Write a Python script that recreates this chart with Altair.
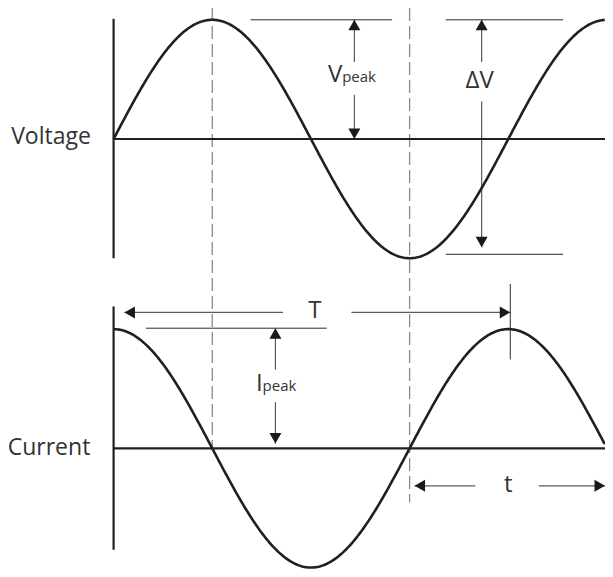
import altair as alt
import numpy as np
import pandas as pd

# ---- diagram parameters ----
# x in electrical degrees (one period = 360), y in units of peak amplitude
X_DOMAIN = [-96.3, 448.2]
Y_DOMAIN = [-3.607, 1.099]
V_BASE = 0.0          # voltage zero line
I_BASE = -2.595       # current zero line
AMP = 1.0
X_END = 448.2

phase = np.arange(0, 450, 1.0)
phase = phase[phase <= X_END]
voltage = V_BASE + AMP * np.sin(np.radians(phase))
current = I_BASE + AMP * np.cos(np.radians(phase))

waves = pd.DataFrame({
    "x": np.concatenate([phase, phase]),
    "y": np.concatenate([voltage, current]),
    "s": ["V"] * len(phase) + ["I"] * len(phase),
})

# thick axis lines
ax_x = [0, 0, 0, 0]
ax_x2 = [0, 0, X_END, X_END]
ax_y = [1.008, -1.405, V_BASE, I_BASE]
ax_y2 = [-1.0, -3.446, V_BASE, I_BASE]
axes_df = pd.DataFrame({"x": ax_x, "x2": ax_x2, "y": ax_y, "y2": ax_y2})

# dashed guides
dash_x = [90, 270]
dash_top = [1.1, 1.1]
dash_bot = [I_BASE, -3.05]
dash_df = pd.DataFrame({"x": dash_x, "y": dash_top, "y2": dash_bot})

# thin reference lines (peak levels, period tick)
ref_x = [125, 303, 303, 29.4, 361.8]
ref_x2 = [254, 410, 410, 194.4, 361.8]
ref_y = [1.0, 1.0, -0.967, -1.587, -1.215]
ref_y2 = [1.0, 1.0, -0.967, -1.587, -1.849]
ref_df = pd.DataFrame({"x": ref_x, "x2": ref_x2, "y": ref_y, "y2": ref_y2})

# arrow shafts
sh_x = [219.6, 219.6, 335.7, 335.7, 147.6, 147.6, 9.9, 216.9, 274.5, 387.9]
sh_x2 = [219.6, 219.6, 335.7, 335.7, 147.6, 147.6, 154.5, 361.8, 330.0, 448.2]
sh_y = [1.0, 0.372, 1.0, 0.314, -1.587, -2.207, -1.455, -1.455, -2.909, -2.909]
sh_y2 = [0.645, 0.0, 0.645, -0.909, -1.934, -2.554, -1.455, -1.455, -2.909, -2.909]
sh_df = pd.DataFrame({"x": sh_x, "x2": sh_x2, "y": sh_y, "y2": sh_y2})

# arrowheads (tip position, direction angle: 0=up, 90=right, 180=down, 270=left)
head_x = [219.6, 219.6, 335.7, 335.7, 147.6, 147.6, 9.9, 361.8, 274.5, 448.2]
head_y = [1.0, 0.0, 1.0, -0.909, -1.587, -2.554, -1.455, -1.455, -2.909, -2.909]
head_a = [0, 180, 0, 180, 0, 180, 270, 90, 270, 90]
head_df = pd.DataFrame({"x": head_x, "y": head_y, "a": head_a})
ARROW = "M0,0L0.6,1.05L-0.6,1.05Z"

# text labels (alphabetic baseline positions)
main_txt = ["Voltage", "Current"]
main_x = [-20.7, -21.2]
main_y = [-0.044, -2.647]
main_df = pd.DataFrame({"t": main_txt, "x": main_x, "y": main_y})

sym_r_txt = ["V", "I"]
sym_r_x = [208.5, 135.9]
sym_r_y = [0.479, -2.110]
sym_r_df = pd.DataFrame({"t": sym_r_txt, "x": sym_r_x, "y": sym_r_y})

sym_c_txt = ["ΔV", "T", "t"]
sym_c_x = [333.9, 183.6, 360.0]
sym_c_y = [0.424, -1.504, -2.959]
sym_c_df = pd.DataFrame({"t": sym_c_txt, "x": sym_c_x, "y": sym_c_y})

sub_txt = ["peak", "peak"]
sub_x = [208.5, 135.9]
sub_y = [0.479, -2.110]
sub_df = pd.DataFrame({"t": sub_txt, "x": sub_x, "y": sub_y})

xs = alt.Scale(domain=X_DOMAIN, nice=False, zero=False)
ys = alt.Scale(domain=Y_DOMAIN, nice=False, zero=False)
X = lambda f="x": alt.X(f"{f}:Q", scale=xs, axis=None)
Y = lambda f="y": alt.Y(f"{f}:Q", scale=ys, axis=None)

INK = "#231f20"
TXT = "#333333"
FONT = "Open Sans"

dash_layer = alt.Chart(dash_df).mark_rule(
    color="#8a8a8a", strokeWidth=1.3, strokeDash=[13, 5]
).encode(x=X(), y=Y(), y2="y2:Q")

ref_layer = alt.Chart(ref_df).mark_rule(color="#2a2a2a", strokeWidth=1).encode(
    x=X(), x2="x2:Q", y=Y(), y2="y2:Q"
)

shaft_layer = alt.Chart(sh_df).mark_rule(color="#5a5a5a", strokeWidth=1.2).encode(
    x=X(), x2="x2:Q", y=Y(), y2="y2:Q"
)

axes_layer = alt.Chart(axes_df).mark_rule(color=INK, strokeWidth=2.2).encode(
    x=X(), x2="x2:Q", y=Y(), y2="y2:Q"
)

wave_layer = alt.Chart(waves).mark_line(color=INK, strokeWidth=2.6, clip=True).encode(
    x=X(), y=Y(), detail="s:N", order="x:Q"
)

head_layer = alt.Chart(head_df).mark_point(
    shape=ARROW, filled=True, color="#1a1a1a", size=400, opacity=1, strokeWidth=0
).encode(x=X(), y=Y(), angle=alt.Angle("a:Q", scale=None))

main_layer = alt.Chart(main_df).mark_text(
    align="right", baseline="alphabetic", font=FONT, fontSize=23, color=TXT
).encode(x=X(), y=Y(), text="t:N")

sym_r_layer = alt.Chart(sym_r_df).mark_text(
    align="right", baseline="alphabetic", font=FONT, fontSize=24, color=TXT
).encode(x=X(), y=Y(), text="t:N")

sym_c_layer = alt.Chart(sym_c_df).mark_text(
    align="center", baseline="alphabetic", font=FONT, fontSize=24, color=TXT
).encode(x=X(), y=Y(), text="t:N")

sub_layer = alt.Chart(sub_df).mark_text(
    align="left", baseline="alphabetic", font=FONT, fontSize=15, color=TXT
).encode(x=X(), y=Y(), text="t:N")

chart = alt.layer(
    dash_layer, ref_layer, shaft_layer, axes_layer, wave_layer, head_layer,
    main_layer, sym_r_layer, sym_c_layer, sub_layer
).properties(
    width=597, height=561,
    autosize=alt.AutoSizeParams(type="none"),
    padding={"left": 0, "top": 0, "right": 0, "bottom": 0},
).configure_view(stroke=None)

chart.save("out.html", embed_options={"renderer": "svg", "actions": False})
